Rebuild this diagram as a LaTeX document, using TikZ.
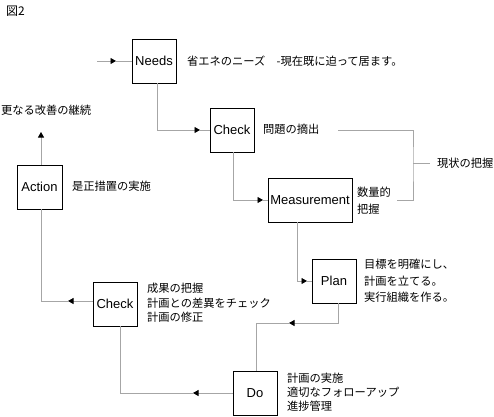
\documentclass[tikz,border=0pt]{standalone}
\usepackage{fontspec}
\setmainfont{Liberation Sans}
\newfontfamily\jp{Noto Sans CJK JP}
\usetikzlibrary{arrows.meta}
\begin{document}
\begin{tikzpicture}[x=1pt,y=-1pt,
  box/.style={draw=black,line width=0.9pt,fill=white,inner sep=0pt,
    minimum width=44pt,minimum height=44pt,font=\fontsize{13}{15}\selectfont},
  conn/.style={draw=black!35,line width=0.8pt},
  tip/.style={-{Triangle[length=5.5pt,width=6pt,color=black,fill=black]}},
  txt/.style={inner sep=0pt,anchor=west,align=left,font=\jp\fontsize{11.25}{14.3}\selectfont}]
\useasboundingbox (0,0) rectangle (494,416);

% boxes
\node[box] (needs) at (154,61) {Needs};
\node[box] (check1) at (232,130) {Check};
\node[box,minimum width=84pt] (meas) at (310,200) {Measurement};
\node[box] (plan) at (334,281) {Plan};
\node[box] (do) at (255,393) {Do};
\node[box] (check2) at (115,304) {Check};
\node[box,minimum width=45pt] (action) at (39.5,187) {Action};

% texts
\node[txt,font=\jp\fontsize{12}{14}\selectfont] (fig) at (6,11) {図2};
\node[txt] (tneeds) at (187,61) {省エネのニーズ　-現在既に迫って居ます。};
\node[txt] (tcheck1) at (263,129) {問題の摘出};
\node[txt] (genjo) at (437,163) {現状の把握};
\node[txt,font=\jp\fontsize{11.25}{17}\selectfont] (tmeas) at (357,201) {数量的\\把握};
\node[txt,font=\jp\fontsize{11.25}{16.3}\selectfont] (tplan) at (364,281) {目標を明確にし、\\計画を立てる。\\実行組織を作る。};
\node[txt] (tcheck2) at (147,303) {成果の把握\\計画との差異をチェック\\計画の修正};
\node[txt,font=\jp\fontsize{11.25}{14}\selectfont] (tdo) at (287,392) {計画の実施\\適切なフォローアップ\\進捗管理};
\node[txt] (taction) at (72,186) {是正措置の実施};
\node[txt] (tcont) at (1,110) {更なる改善の継続};

% arrow points
\coordinate (s0) at (97,61);
\coordinate (t1) at (116,61);
\coordinate (t2) at (200,130);
\coordinate (t3) at (263,200);
\coordinate (t4) at (307,281);
\coordinate (t5) at (289,323);
\coordinate (t6) at (193,393);
\coordinate (t7) at (68,301);
\coordinate (t8) at (41,132);

% connectors
\draw[conn,tip] (s0) -- (t1);
\draw[conn] (t1) -- (needs.west);

\draw[conn,tip] ([xshift=3pt]needs.south) |- (t2);
\draw[conn] (t2) -- (check1.west);

\draw[conn,tip] ([xshift=1pt]check1.south) |- (t3);
\draw[conn] (t3) -- (meas.west);

\draw[conn,tip] ([xshift=-13pt]meas.south) |- (t4);
\draw[conn] (t4) -- (plan.west);

\draw[conn,tip] ([xshift=4pt]plan.south) |- (t5);
\draw[conn] (t5) -| ([xshift=1pt]do.north);

\draw[conn,tip] (do.west) -- (t6);
\draw[conn] (t6) -| ([xshift=5pt]check2.south);

\draw[conn,tip] ([yshift=3pt]check2.west) -- (t7);
\draw[conn] (t7) -| ([xshift=1.5pt]action.south);

\draw[conn,tip] ([xshift=1.5pt]action.north) -- (t8);

% bracket
\coordinate (b1) at (338,130);
\coordinate (b2) at (397,200);
\coordinate (bk) at (413,163);
\coordinate (bg) at (430,163);
\draw[conn] (b1) -| (bk) |- (b2);
\draw[conn] (bk) -- (bg);
\end{tikzpicture}
\end{document}
